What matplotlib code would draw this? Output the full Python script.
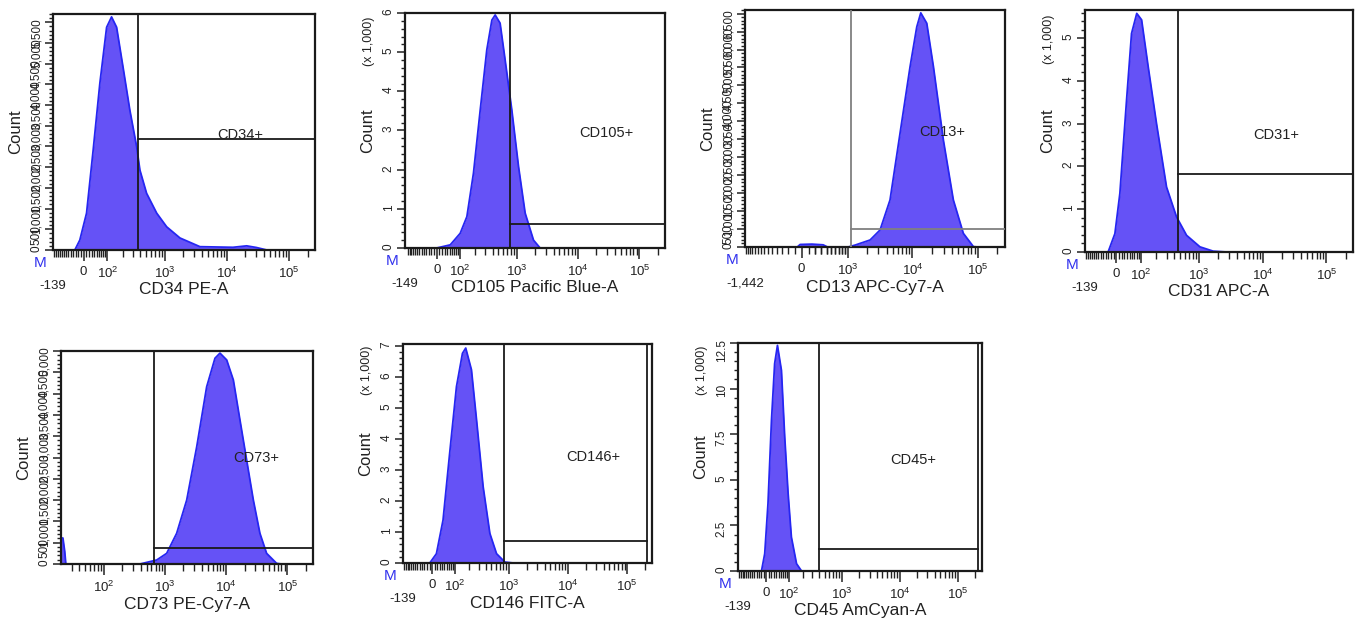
import matplotlib
matplotlib.use('Agg')
import matplotlib.pyplot as plt
import matplotlib.transforms as mtransforms
from matplotlib.ticker import NullFormatter

plt.rcParams['font.family'] = ['Liberation Sans', 'DejaVu Sans']
plt.rcParams['mathtext.fontset'] = 'custom'
plt.rcParams['mathtext.rm'] = 'Liberation Sans'
plt.rcParams['mathtext.it'] = 'Liberation Sans:italic'
plt.rcParams['mathtext.bf'] = 'Liberation Sans:bold'

# histogram outlines (fluorescence value, event count)
cd34_x = [-33, -14, 11, 36, 64, 96, 123, 155, 203, 268, 349, 396, 510, 745, 1080, 1770, 3710, 12600, 20900, 30000, 44000]
cd34_y = [0, 240, 890, 2400, 4030, 5380, 5630, 5380, 4430, 3380, 2500, 1930, 1370, 890, 560, 290, 80, 65, 100, 60, 0]

cd105_x = [0, 53, 100, 139, 186, 246, 320, 390, 443, 535, 648, 835, 1075, 1380, 1890, 2420]
cd105_y = [0, 80, 375, 800, 1910, 3520, 5060, 5820, 5950, 5740, 4800, 3520, 2080, 890, 200, 0]

cd13_x = [-60, -20, 150, 336, 420, 1000, 1305, 2230, 3180, 4530, 6460, 9200, 11660, 13430, 16600, 21000, 29800, 42400, 60300, 86000, 100000]
cd13_y = [0, 70, 80, 60, 0, 0, 55, 195, 473, 1310, 3170, 5020, 6130, 6520, 6230, 5020, 2980, 1310, 380, 10, 0]

cd31_x = [-30, -5, 13, 38, 58, 81, 105, 143, 203, 300, 437, 632, 1030, 1660, 2700]
cd31_y = [0, 430, 1370, 3550, 5110, 5580, 5430, 4330, 3000, 1520, 820, 390, 120, 20, 0]

cd73_x = [20, 21.5, 23, 24, 391, 733, 1066, 1552, 2264, 3300, 4800, 6560, 7920, 10200, 13100, 16800, 21600, 27800, 35600, 45800, 66700, 80000]
cd73_y = [610, 610, 300, 0, 0, 94, 250, 720, 1500, 2750, 4160, 4830, 4950, 4790, 4320, 3380, 2440, 1500, 720, 250, 15, 0]

cd146_x = [-9, 17, 44, 74, 110, 148, 172, 221, 274, 359, 470, 612, 850, 1180]
cd146_y = [0, 300, 1380, 3530, 5680, 6750, 6920, 6220, 4600, 2450, 950, 300, 30, 0]

cd45_x = [-20, -7, 6, 20, 33, 45, 63, 79, 97, 116, 150, 189]
cd45_y = [0, 950, 3700, 8260, 11370, 12370, 11000, 7350, 4240, 1860, 400, 0]

channels = ['CD34 PE-A', 'CD105 Pacific Blue-A', 'CD13 APC-Cy7-A', 'CD31 APC-A',
            'CD73 PE-Cy7-A', 'CD146 FITC-A', 'CD45 AmCyan-A']
gate_names = ['CD34+', 'CD105+', 'CD13+', 'CD31+', 'CD73+', 'CD146+', 'CD45+']
gate_lo = [363, 786, 1125, 464, 670, 817, 394]
gate_hi = [262144, 262144, 262144, 262144, 262144, 216000, 223500]
gate_level = [2670, 610, 500, 1820, 383, 710, 1190]
label_x = [16300, 29500, 28200, 16500, 31500, 26800, 17200]
label_y = [2780, 2930, 3210, 2730, 2480, 3420, 6070]

x_min = [-139, -149, -1442, -139, 20, -139, -139]
x_min_text = ['-139', '-149', '-1,442', '-139', None, '-139', '-139']
x_max = 262144
y_max = [5700, 6000, 6600, 5660, 5000, 7050, 12500]

curves = [(cd34_x, cd34_y), (cd105_x, cd105_y), (cd13_x, cd13_y), (cd31_x, cd31_y),
          (cd73_x, cd73_y), (cd146_x, cd146_y), (cd45_x, cd45_y)]

W, H = 1357, 623
# pixel boxes (left, right, top, bottom)
boxes = [(53, 315, 14, 250), (405, 665, 13, 248), (745, 1005, 10, 247),
         (1085, 1353, 10, 252), (61, 313, 351, 564), (403, 652, 344, 563),
         (738, 982, 343, 571)]
lin_width = [100, 100, 400, 100, None, 100, 100]
y_mode = ['count', 'k', 'count', 'k', 'count', 'k', 'k25']

FILL = '#6552f6'
EDGE = '#2626f2'
TXT = '#222222'

fig = plt.figure(figsize=(13.57, 6.23), dpi=100)

for i in range(7):
    l, r, t, b = boxes[i]
    wpx, hpx = r - l, b - t
    ax = fig.add_axes([l / W, 1 - b / H, wpx / W, hpx / H])
    xs, ys = curves[i]

    if lin_width[i] is None:
        ax.set_xscale('log')
    else:
        ax.set_xscale('asinh', linear_width=lin_width[i])
    ax.set_xlim(x_min[i], x_max)
    ax.set_ylim(0, y_max[i])

    # outline sits under the frame so the zero stretches hide behind the axis
    ax.fill_between(xs, ys, color=FILL, lw=0, zorder=2)
    ax.plot(xs, ys, color=EDGE, lw=1.3, zorder=2.2)

    # gate
    gcol = '#808080' if i == 2 else '#1a1a1a'
    ax.plot([gate_lo[i], gate_lo[i]], [0, y_max[i]], color=gcol, lw=1.3, zorder=4)
    ax.plot([gate_lo[i], gate_hi[i]], [gate_level[i], gate_level[i]], color=gcol, lw=1.3, zorder=4)
    if gate_hi[i] < x_max:
        ax.plot([gate_hi[i], gate_hi[i]], [0, y_max[i]], color=gcol, lw=1.3, zorder=4)
    ax.text(label_x[i], label_y[i], gate_names[i], fontsize=10.5, color=TXT,
            ha='center', va='center', zorder=5)

    # x ticks
    if lin_width[i] is None:
        major = [1e2, 1e3, 1e4, 1e5]
        labels = ['$\\mathregular{10^2}$', '$\\mathregular{10^3}$',
                  '$\\mathregular{10^4}$', '$\\mathregular{10^5}$']
        minor = [30, 40, 50, 60, 70, 80, 90]
    else:
        if lin_width[i] > 200:
            major = [0, 1e3, 1e4, 1e5]
            labels = ['0', '$\\mathregular{10^3}$', '$\\mathregular{10^4}$', '$\\mathregular{10^5}$']
            minor = [v for v in range(-1400, 1000, 100) if v != 0]
        else:
            major = [0, 1e2, 1e3, 1e4, 1e5]
            labels = ['0', '$\\mathregular{10^2}$', '$\\mathregular{10^3}$',
                      '$\\mathregular{10^4}$', '$\\mathregular{10^5}$']
            minor = [v for v in range(-130, 100, 10) if v != 0]
    for dec in [100, 1000, 10000]:
        minor += [dec * k for k in range(2, 10)]
    minor += [200000]
    minor = [v for v in minor if v > x_min[i]]
    ax.set_xticks(major)
    ax.set_xticklabels(labels)
    ax.set_xticks(minor, minor=True)
    ax.xaxis.set_minor_formatter(NullFormatter())

    # y ticks
    if y_mode[i] == 'count':
        yt = list(range(0, int(y_max[i]) + 1, 500))
        ax.set_yticks(yt)
        ax.set_yticklabels(['{:,}'.format(v) for v in yt])
        ax.set_yticks(list(range(0, int(y_max[i]) + 1, 100)), minor=True)
    elif y_mode[i] == 'k':
        yt = list(range(0, int(y_max[i]) + 1, 1000))
        ax.set_yticks(yt)
        ax.set_yticklabels([str(v // 1000) for v in yt])
        ax.set_yticks(list(range(0, int(y_max[i]) + 1, 200)), minor=True)
    else:
        yt = list(range(0, int(y_max[i]) + 1, 2500))
        ax.set_yticks(yt)
        ax.set_yticklabels(['{:g}'.format(v / 1000) for v in yt])
        ax.set_yticks(list(range(0, int(y_max[i]) + 1, 500)), minor=True)
    ax.yaxis.set_minor_formatter(NullFormatter())

    ax.tick_params(axis='x', which='major', direction='out', length=8, width=1.1,
                   labelsize=9.5, pad=3.5, colors=TXT)
    ax.tick_params(axis='x', which='minor', direction='out', length=5, width=1.0, colors=TXT)
    ax.tick_params(axis='y', which='major', direction='out', length=6, width=1.1,
                   labelsize=8.5, pad=1.5, labelrotation=90, colors=TXT)
    ax.tick_params(axis='y', which='minor', direction='out', length=3, width=1.0, colors=TXT)
    for sp in ax.spines.values():
        sp.set_linewidth(1.6)
        sp.set_color('#1a1a1a')

    ax.set_xlabel(channels[i], fontsize=12.5, color=TXT)
    ax.xaxis.set_label_coords(0.5, -40 / hpx)
    ax.xaxis.label.set_va('center')
    ax.set_ylabel('Count', fontsize=12, color=TXT)
    ax.yaxis.set_label_coords(-30 / wpx, 0.5)
    if y_mode[i] != 'count':
        ax.text(-30 / wpx, 0.88, '(x 1,000)', rotation=90, fontsize=9, color=TXT,
                ha='right', va='center', transform=ax.transAxes)

    blend = mtransforms.blended_transform_factory(ax.transData, ax.transAxes)
    if x_min_text[i] is not None:
        ax.text(x_min[i], -36 / hpx, x_min_text[i], fontsize=9.5, color=TXT,
                ha='center', va='center', transform=blend)
        ax.text(-13 / wpx, -13 / hpx, 'M', fontsize=11, color='#3333ee',
                ha='center', va='center', transform=ax.transAxes)

fig.savefig('out.png', dpi=100)
